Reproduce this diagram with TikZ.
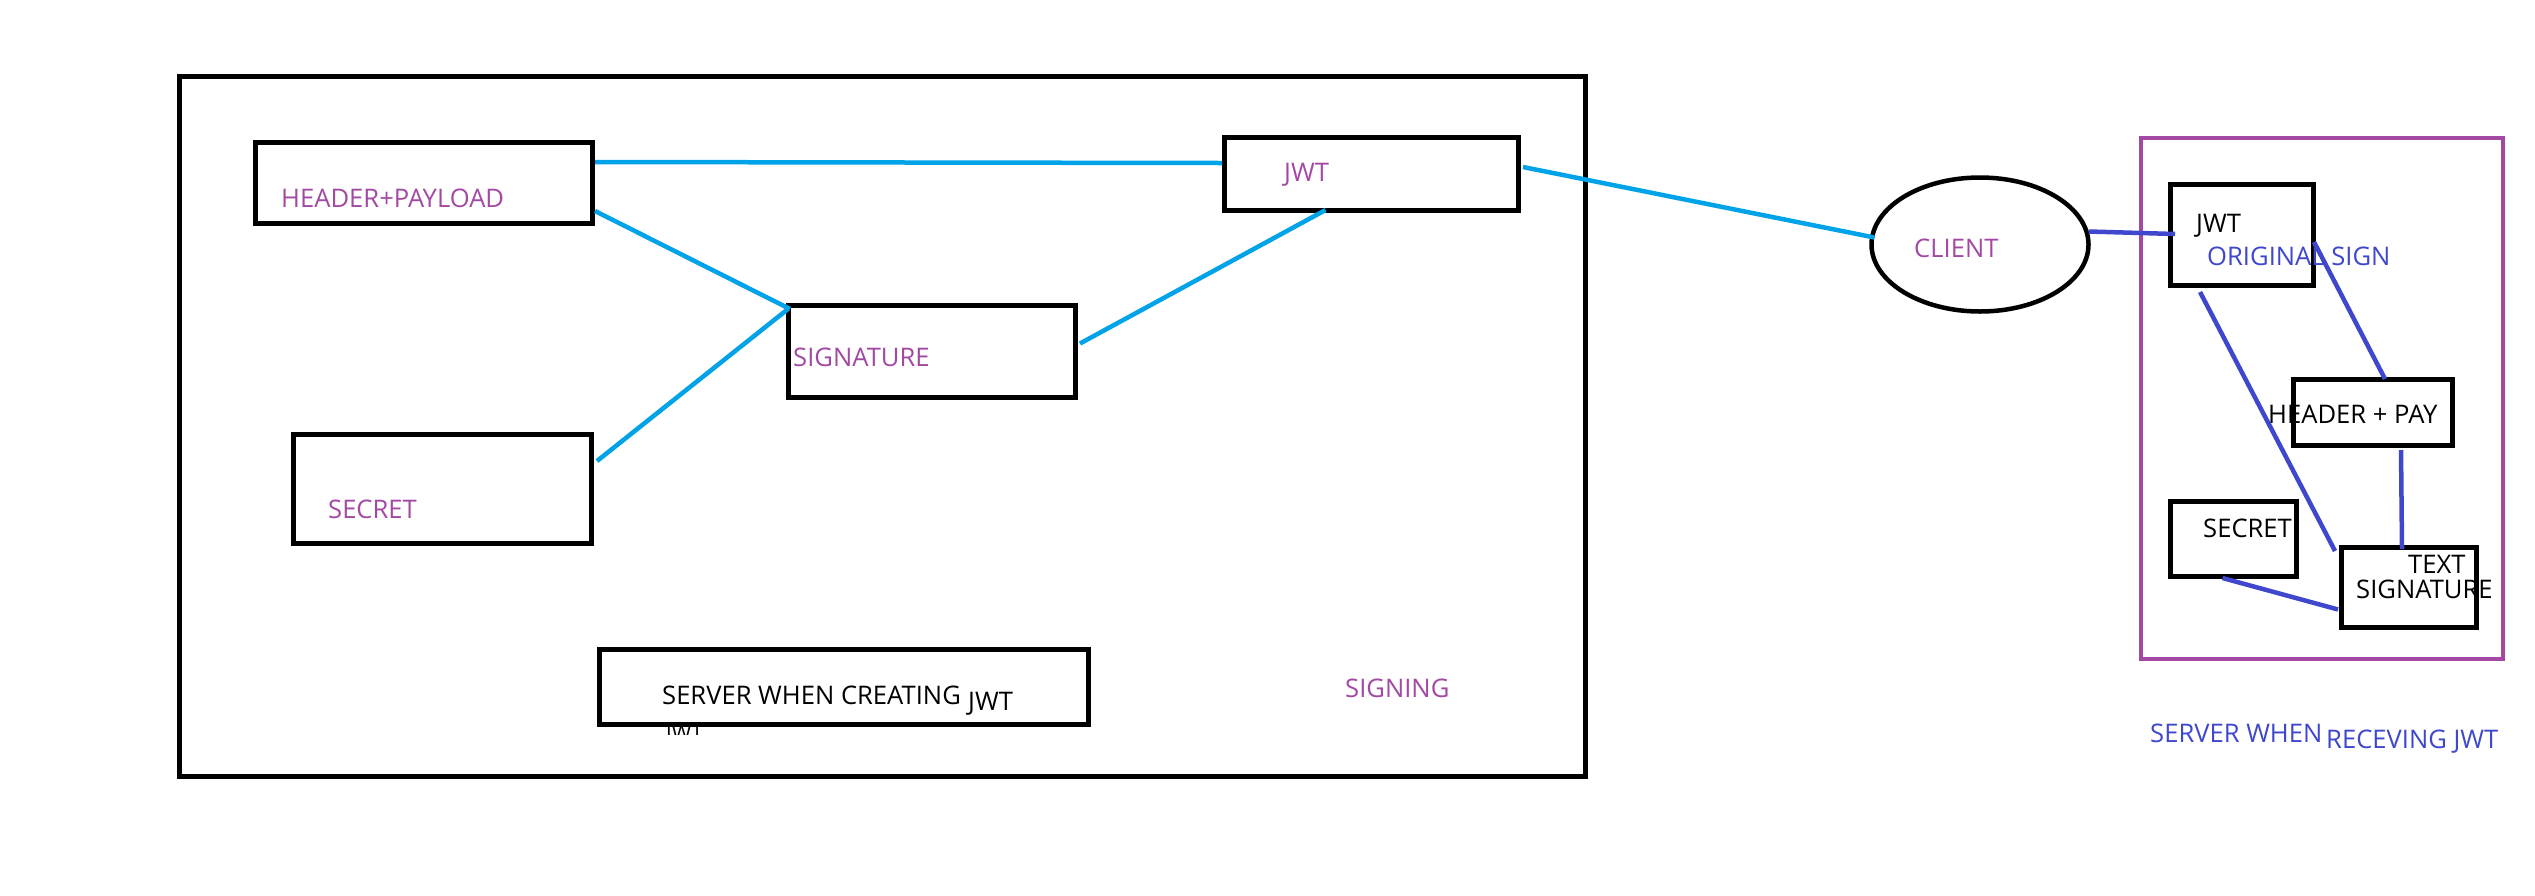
\documentclass[tikz,border=0pt]{standalone}
\usepackage{fontspec}
\setmainfont{Open Sans}
\usetikzlibrary{shapes.geometric}
\definecolor{cyanl}{HTML}{00A2E8}
\definecolor{purp}{HTML}{A349A4}
\definecolor{bluev}{HTML}{3F48CC}
\tikzset{
  box/.style={draw=black, line width=5pt, inner sep=0pt, rectangle},
  lbl/.style={anchor=base west, inner sep=0pt, font=\fontsize{25.6}{25.6}\selectfont},
  cline/.style={draw=cyanl, line width=4.5pt},
  bline/.style={draw=bluev, line width=4.5pt},
}
\begin{document}
\begin{tikzpicture}[x=1pt,y=-1pt]
\useasboundingbox[fill=white] (0,0) rectangle (2535,895);
% outer boxes
\node[box, minimum width=1406pt, minimum height=700pt] (outer) at (882.5,426.5) {};
\node[draw=purp, line width=4.5pt, inner sep=0pt, minimum width=362pt, minimum height=521pt] (recv) at (2322,398.5) {};
% left boxes
\node[box, minimum width=337pt, minimum height=81pt] (hp) at (424,183) {};
\node[box, minimum width=294pt, minimum height=73pt] (jwt) at (1371.5,174) {};
\node[box, minimum width=287pt, minimum height=92pt] (sig) at (932,351.5) {};
\node[box, minimum width=298pt, minimum height=109pt] (sec) at (442.5,489) {};
\node[box, minimum width=489pt, minimum height=75pt] (srv) at (844,687) {};
% client
\node[ellipse, draw=black, line width=4.5pt, inner sep=0pt, minimum width=217pt, minimum height=134pt] (client) at (1980,244.5) {};
% right boxes
\node[box, minimum width=143pt, minimum height=101pt] (jwt2) at (2242,235) {};
\node[box, minimum width=159pt, minimum height=66pt] (hp2) at (2373,412.5) {};
\node[box, minimum width=126pt, minimum height=75pt] (sec2) at (2233.5,539) {};
\node[box, minimum width=135pt, minimum height=80pt] (ts) at (2409,587.5) {};
% cyan connectors
\draw[cline] ([shift={(0,-21)}]hp.east) -- ([shift={(0,-11)}]jwt.west);
\draw[cline] ([shift={(0,28)}]hp.east) -- ([shift={(4,6)}]sig.north west);
\draw[cline] ([shift={(3,-28)}]sec.east) -- ([shift={(2,6)}]sig.north west);
\draw[cline] ([shift={(2,-8)}]sig.east) -- ([shift={(-46,-3)}]jwt.south);
\draw[cline] ([shift={(2,-7)}]jwt.east) -- ([shift={(5,-7)}]client.west);
% blue connectors
\draw[bline] ([shift={(-2,-13)}]client.east) -- ([shift={(7,-1)}]jwt2.west);
\draw[bline] ([shift={(-2,7)}]jwt2.east) -- ([shift={(12,2)}]hp2.north);
\draw[bline] ([shift={(-42,4)}]jwt2.south) -- ([shift={(-4,6)}]ts.north west);
\draw[bline] ([shift={(28,2)}]hp2.south) -- ([shift={(-7,4)}]ts.north);
\draw[bline] ([shift={(-11,-1)}]sec2.south) -- ([shift={(-1,22)}]ts.west);
% texts
\node[lbl, text=purp] (thp) at (281,207) {HEADER+PAYLOAD};
\node[lbl, text=purp] (tjwt) at (1284,181) {JWT};
\node[lbl, text=purp] (tsig) at (793,366) {SIGNATURE};
\node[lbl, text=purp] (tsec) at (328,518) {SECRET};
\node[lbl, text=black] (tsrv) at (662,704) {SERVER WHEN CREATING};
\node[lbl, text=black] (tsrvj) at (968,710) {JWT};
\begin{scope}
\clip (655,727.5) rectangle (725,734);
\node[anchor=base west, inner sep=0pt, font=\fontsize{21}{21}\selectfont] (frag) at (666,740) {JWT};
\end{scope}
\node[lbl, text=purp] (tsigning) at (1345,697) {SIGNING};
\node[lbl, text=purp] (tcl) at (1914,257) {CLIENT};
\node[lbl, text=black] (tjwt2) at (2196,232) {JWT};
\node[lbl, text=bluev] (torig) at (2207,265) {ORIGINAL SIGN};
\node[lbl, text=black] (thp2) at (2268,423) {HEADER + PAY};
\node[lbl, text=black] (tsec2) at (2203,537) {SECRET};
\node[lbl, text=black] (ttext) at (2408,573) {TEXT};
\node[lbl, text=black] (tts) at (2356,598) {SIGNATURE};
\node[lbl, text=bluev] (tsw) at (2150,742) {SERVER WHEN};
\node[lbl, text=bluev] (trj) at (2326,748) {RECEVING JWT};
\end{tikzpicture}
\end{document}
